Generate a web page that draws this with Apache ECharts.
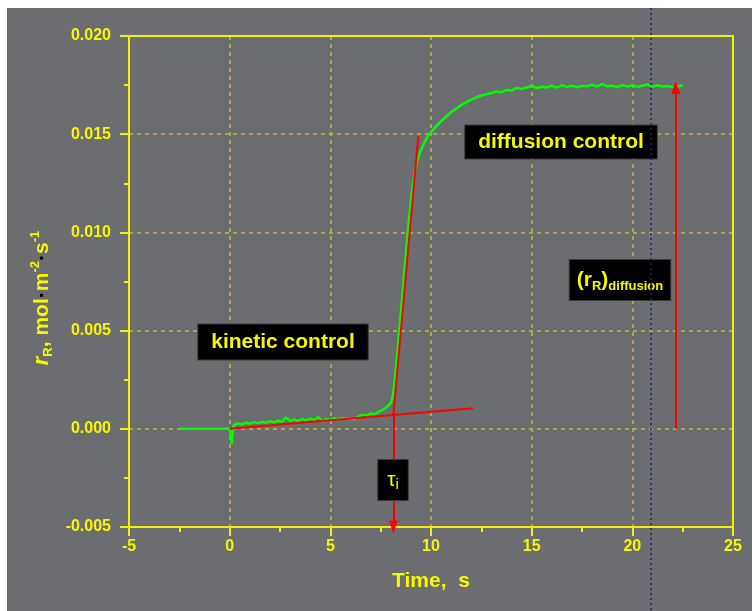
<!DOCTYPE html>
<html><head><meta charset="utf-8">
<script src="https://cdn.jsdelivr.net/npm/echarts@6/dist/echarts.min.js"></script>
<style>
html,body{margin:0;padding:0;background:#fff;width:752px;height:611px;overflow:hidden}
#c{position:absolute;left:7px;top:8px;width:745px;height:603px;}
</style>
</head><body><div id="c"></div>
<script>
// ---- data ----
const timeS = [-2.5,-2,-1.5,-1,-0.5,0,0.05,0.1,0.15,
  0.2,0.4,0.6,0.8,1.0,1.2,1.4,1.6,1.8,2.0,2.2,2.4,2.6,2.8,3.0,3.2,3.4,3.6,3.8,4.0,
  4.2,4.4,4.6,4.8,5.0,5.2,5.4,5.6,5.8,6.0,6.2,6.4,6.6,6.8,7.0,7.2,7.4,7.6,7.8,8.0,
  8.1,8.2,8.3,8.4,8.5,8.6,8.7,8.8,8.9,9.0,9.1,9.2,9.3,9.4,9.5,9.6,9.7,9.8,9.9,10.0,
  10.25,10.5,10.75,11.0,11.25,11.5,11.75,12.0,12.25,12.5,12.75,13.0,13.25,13.5,13.75,14.0,
  14.25,14.5,14.75,15.0,15.25,15.5,15.75,16.0,16.25,16.5,16.75,17.0,17.25,17.5,17.75,18.0,
  18.25,18.5,18.75,19.0,19.25,19.5,19.75,20.0,20.25,20.5,20.75,21.0,21.25,21.5,21.75,22.0,
  22.25,22.5];
const rateR = [0,0,0,0,0,0,-0.0003,-0.00075,-0.0002,
  0.00018,0.00027,0.00022,0.00031,0.00026,0.00034,0.00029,0.00035,0.00031,0.00038,0.00033,0.00041,0.00036,0.00058,0.00040,0.00047,0.00039,0.00050,0.00043,0.00052,
  0.00046,0.00060,0.00038,0.00049,0.00046,0.00054,0.00048,0.00055,0.00050,0.00053,0.00049,0.00062,0.00072,0.00068,0.00078,0.00074,0.00086,0.00096,0.00110,0.00130,
  0.00165,0.0025,0.0035,0.0047,0.0059,0.0071,0.0083,0.0095,0.0106,0.0116,0.0124,0.0131,0.0136,0.0139,0.0142,0.0144,0.01465,0.0148,0.0150,0.0151,
  0.0154,0.01565,0.0159,0.01612,0.0163,0.01648,0.01662,0.01676,0.01688,0.01697,0.01703,0.0171,0.01718,0.01713,0.01726,0.01722,
  0.01736,0.0173,0.01738,0.01746,0.01735,0.01742,0.01738,0.01747,0.01737,0.01749,0.01741,0.01747,0.01739,0.01746,0.01744,0.01752,
  0.01742,0.01756,0.01744,0.01747,0.0174,0.01749,0.01743,0.01749,0.01741,0.01747,0.01753,0.01742,0.01749,0.01743,0.01745,0.0174,
  0.01743,0.01749];
const kineticFit = [[0,0],[12.1,0.00105]];
const steepFit = [[8.13,0.0007],[9.37,0.0149]];
const tauArrow = [[8.13,0.0007],[8.13,-0.005]];
const diffusionArrow = [[22.15,0],[22.15,0.01738]];
const markerTime = 20.93;
const xRange = {min:-5, max:25, interval:5};
const yRange = {min:-0.005, max:0.020, interval:0.005};
const labels = {x:'Time,  s', kinetic:'kinetic control', diffusion:'diffusion control'};

// ---- chart ----
const YEL = '#f7f700';
const AXIS = '#f2f200';
const GRIDC = '#c2ba3e';
const FONT = '"Liberation Sans", Arial, sans-serif';
const greenData = timeS.map((t,i)=>[t, rateR[i]]);

const chart = echarts.init(document.getElementById('c'), null, {renderer:'canvas'});
const axisCommon = {
  axisLine:{show:true, onZero:false, lineStyle:{color:AXIS, width:2}},
  axisTick:{show:true, inside:false, length:9, lineStyle:{color:AXIS, width:2}},
  minorTick:{show:true, splitNumber:2, length:5, lineStyle:{color:AXIS, width:2}},
  splitLine:{show:true, lineStyle:{color:GRIDC, width:1.5, type:[4,4]}},
};
const frameAxis = {
  axisLine:{show:true, onZero:false, lineStyle:{color:AXIS, width:2}},
  axisTick:{show:false}, axisLabel:{show:false}, splitLine:{show:false}, minorTick:{show:false}
};
chart.setOption({
  animation:false,
  backgroundColor:'#6c6d71',
  grid:{left:122, right:19, top:28, bottom:84},
  xAxis:[Object.assign({type:'value', position:'bottom', min:xRange.min, max:xRange.max, interval:xRange.interval,
      name:labels.x, nameLocation:'middle', nameGap:44,
      nameTextStyle:{color:YEL, fontFamily:FONT, fontWeight:'bold', fontSize:21},
      axisLabel:{color:YEL, fontFamily:FONT, fontWeight:'bold', fontSize:16, margin:12}}, axisCommon),
    Object.assign({type:'value', position:'top', min:xRange.min, max:xRange.max, interval:xRange.interval}, frameAxis)],
  yAxis:[Object.assign({type:'value', position:'left', min:yRange.min, max:yRange.max, interval:yRange.interval,
      axisLabel:{color:YEL, fontFamily:FONT, fontWeight:'bold', fontSize:16, margin:18,
        formatter:v=>v.toFixed(3)}}, axisCommon),
    Object.assign({type:'value', position:'right', min:yRange.min, max:yRange.max, interval:yRange.interval}, frameAxis)],
  series:[
    {type:'line', data:greenData, showSymbol:false, symbol:'none', lineStyle:{color:'#00ff00', width:2.5}, z:3},
    {type:'line', data:kineticFit, symbol:'none', lineStyle:{color:'#ff0000', width:2}, z:4},
    {type:'line', data:steepFit, symbol:'none', lineStyle:{color:'#ff0000', width:2}, z:4,
      markLine:{silent:true, symbol:['none','triangle'], symbolSize:[9,13], label:{show:false},
        lineStyle:{color:'#ff0000', width:2, type:'solid'},
        data:[[{coord:tauArrow[0]},{coord:tauArrow[1]}],[{coord:diffusionArrow[0]},{coord:diffusionArrow[1]}]]}}
  ]
});

const mx = chart.convertToPixel({xAxisIndex:0}, markerTime);
const boxStyle = {fill:YEL, backgroundColor:'#000', borderColor:'#3c3c3c', borderWidth:1, align:'center', verticalAlign:'middle'};
chart.setOption({graphic:[
  {type:'text', x:283-7, y:342-8, z:50, style:Object.assign({text:labels.kinetic, font:'bold 21px '+FONT, padding:[7,13]}, boxStyle)},
  {type:'text', x:561-7, y:142-8, z:50, style:Object.assign({text:labels.diffusion, font:'bold 21px '+FONT, padding:[6,13]}, boxStyle)},
  {type:'text', x:620-7, y:280-8, z:50, style:Object.assign({text:'{p|(r}{s|R}{p|)}{s|diffusion}', padding:[7,7],
      rich:{p:{fill:YEL, font:'bold 21px '+FONT, lineHeight:26, verticalAlign:'middle'},
            s:{fill:YEL, font:'bold 13px '+FONT, lineHeight:8, verticalAlign:'bottom'}}}, boxStyle)},
  {type:'text', x:393-7, y:480-8, z:50, style:Object.assign({text:'{t|τ}{i|i}', padding:[8,9],
      rich:{t:{fill:YEL, font:'21px '+FONT, lineHeight:24, verticalAlign:'middle'},
            i:{fill:YEL, font:'15px '+FONT, lineHeight:10, verticalAlign:'bottom'}}}, boxStyle)},
  {type:'text', x:42-7, y:298-8, rotation:Math.PI/2, z:50, style:{text:'{r|r}{s|R}{m|, mol}{d|·}{m|m}{u|-2}{d|·}{m|s}{u|-1}',
      align:'center', verticalAlign:'middle',
      rich:{r:{fill:YEL, font:'italic bold 22px '+FONT, lineHeight:26, verticalAlign:'middle'},
            m:{fill:YEL, font:'bold 21px '+FONT, lineHeight:26, verticalAlign:'middle'},
            d:{fill:'#000', font:'bold 21px '+FONT, lineHeight:26, verticalAlign:'middle'},
            s:{fill:YEL, font:'bold 13px '+FONT, lineHeight:8, verticalAlign:'bottom'},
            u:{fill:YEL, font:'bold 13px '+FONT, lineHeight:8, verticalAlign:'top'}}}},
  {type:'line', z:60, shape:{x1:mx, y1:0, x2:mx, y2:603},
    style:{stroke:'#1f1f78', lineWidth:1.5, lineDash:[2,3]}}
]});
</script></body></html>
